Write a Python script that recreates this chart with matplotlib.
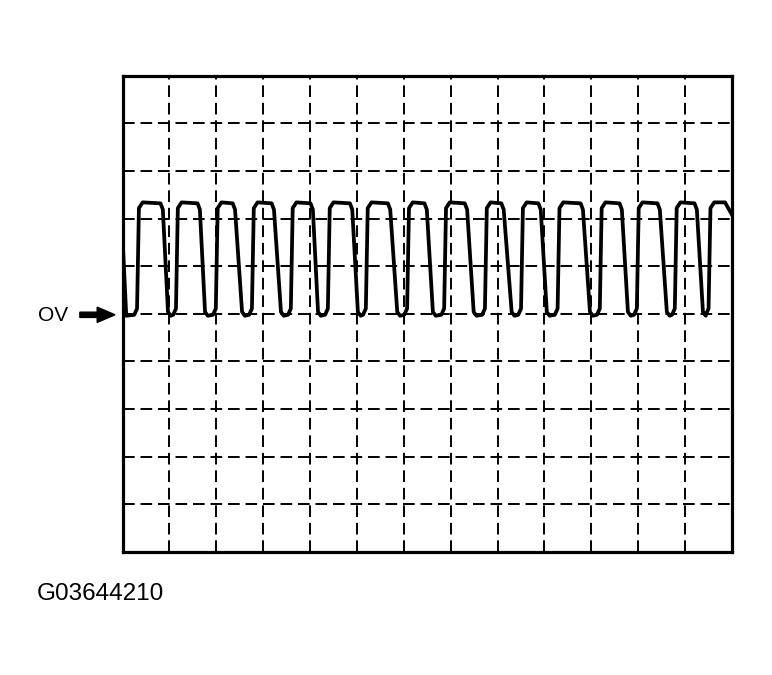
import numpy as np
import matplotlib
matplotlib.use("Agg")
import matplotlib.pyplot as plt
from matplotlib.patches import FancyArrow

# --- waveform (divisions; 0V at y = 0) ---

N_XDIV = 13
Y_RANGE = (-5, 5)

START_LEVEL = 1.6           # trace enters the screen already falling
RISE = [0.31, 1.14, 1.99, 2.76, 3.59, 4.38, 5.19, 6.07, 6.86, 7.73,
        8.50, 9.28, 10.18, 10.97, 11.78, 12.50]
FALL_TOP = [0.86, 1.65, 2.40, 3.23, 4.06, 4.90, 5.71, 6.49, 7.35, 8.13,
            8.92, 9.82, 10.65, 11.46, 12.25]
FALL_LOW = [0.97, 1.76, 2.55, 3.38, 4.17, 5.02, 5.86, 6.62, 7.49, 8.30,
            9.05, 9.97, 10.78, 11.61, 12.38]
HIGH = 2.34
LOW = -0.04
END_LEVEL = 2.08            # small droop at the right edge

LABEL_0V = "OV"
FIG_ID = "G03644210"

plt.rcParams["font.family"] = ["Liberation Sans", "DejaVu Sans"]


def build_trace():
    xs = [0.0, 0.08]
    ys = [START_LEVEL, LOW]
    for i, r in enumerate(RISE):
        xs += [r - 0.06, r, r + 0.04, r + 0.12]
        ys += [LOW + 0.02, LOW + 0.15, HIGH - 0.12, HIGH]
        if i < len(FALL_TOP):
            ft, fl = FALL_TOP[i], FALL_LOW[i]
            xs += [ft - 0.05, ft, fl, fl + 0.06]
            ys += [HIGH - 0.02, HIGH - 0.15, LOW + 0.08, LOW]
    xs += [N_XDIV - 0.15, N_XDIV]
    ys += [HIGH, END_LEVEL]
    return np.array(xs), np.array(ys)


fig = plt.figure(figsize=(7.72, 6.75), dpi=100)
ax = fig.add_axes([0.1587, 0.1822, 0.7895, 0.7057])

# dashed graticule
for gx in range(1, N_XDIV):
    ax.axvline(gx, color="black", lw=1.4, ls=(0, (6, 3)), zorder=1)
for gy in range(Y_RANGE[0] + 1, Y_RANGE[1]):
    ax.axhline(gy, color="black", lw=1.4, ls=(0, (6, 3)), zorder=1)

tx, ty = build_trace()
ax.plot(tx, ty, color="black", lw=2.7, solid_joinstyle="round", zorder=3)

ax.set_xlim(0, N_XDIV)
ax.set_ylim(*Y_RANGE)
ax.set_xticks([])
ax.set_yticks([])
for sp in ax.spines.values():
    sp.set_linewidth(2.3)

# 0V marker
ax.add_patch(FancyArrow(-0.91, -0.02, 0.37, 0.0, width=0.11, head_width=0.32,
                        head_length=0.38, length_includes_head=False,
                        color="black", clip_on=False))
ax.text(-1.49, -0.04, LABEL_0V, ha="center", va="center", fontsize=15,
        clip_on=False)

fig.text(37 / 772, 1 - 600 / 675, FIG_ID, ha="left", va="baseline",
         fontsize=17.5)

fig.savefig("out.png", dpi=100)
